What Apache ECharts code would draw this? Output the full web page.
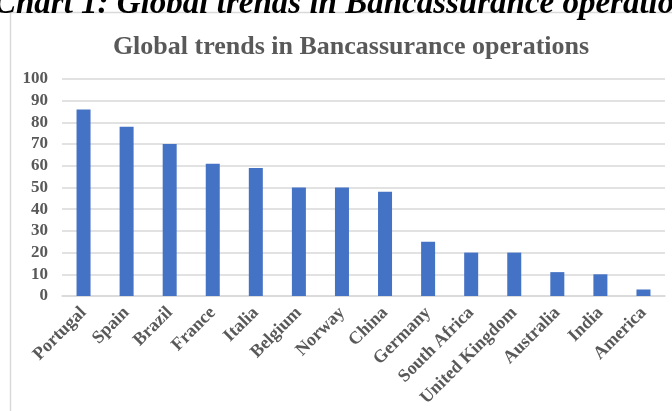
<!DOCTYPE html>
<html>
<head>
<meta charset="utf-8">
<script src="https://cdn.jsdelivr.net/npm/echarts@6/dist/echarts.min.js"></script>
<style>
  html, body { margin: 0; padding: 0; background: #fff; }
  #chart { width: 672px; height: 411px; }
</style>
</head>
<body>
<div id="chart"></div>
<script>
// data
const countries = ['Portugal', 'Spain', 'Brazil', 'France', 'Italia', 'Belgium', 'Norway',
    'China', 'Germany', 'South Africa', 'United Kingdom', 'Australia', 'India', 'America'];
const shares = [86, 78, 70, 61, 59, 50, 50, 48, 25, 20, 20, 11, 10, 3];

const serif = '"Liberation Serif", "DejaVu Serif", serif';
const grey = '#595959';

let chart = echarts.init(document.getElementById('chart'));

const option = {
    animation: false,
    title: {
        text: 'Global trends in Bancassurance operations',
        left: 346,
        textAlign: 'center',
        top: 29,
        textStyle: { fontFamily: serif, fontSize: 26, fontWeight: 'bold', color: grey }
    },
    graphic: [
        {
            type: 'rect',
            shape: { x: 10.5, y: 12.5, width: 700, height: 450 },
            style: { fill: 'none', stroke: '#d9d9d9', lineWidth: 1.5 },
            silent: true
        },
        {
            type: 'text',
            left: -6,
            top: -12,
            style: {
                text: 'Chart 1: Global trends in Bancassurance operations',
                font: 'italic bold 33px ' + serif,
                fill: '#000'
            }
        }
    ],
    grid: { left: 62, right: 7, top: 79, bottom: 115 },
    xAxis: {
        type: 'category',
        data: countries,
        axisLine: { lineStyle: { color: '#d9d9d9', width: 1.5 } },
        axisTick: { show: false },
        axisLabel: {
            interval: 0,
            rotate: 45,
            margin: 14,
            fontFamily: serif,
            fontSize: 18,
            fontWeight: 'bold',
            color: grey
        }
    },
    yAxis: {
        type: 'value',
        min: 0,
        max: 100,
        interval: 10,
        axisLine: { show: false },
        axisTick: { show: false },
        splitLine: { lineStyle: { color: '#d9d9d9', width: 1.5 } },
        axisLabel: {
            margin: 14,
            fontFamily: serif,
            fontSize: 17,
            fontWeight: 'bold',
            color: grey
        }
    },
    series: [
        {
            type: 'bar',
            data: shares,
            barWidth: 14,
            itemStyle: { color: '#4472c4' }
        }
    ]
};

chart.setOption(option);
</script>
</body>
</html>
